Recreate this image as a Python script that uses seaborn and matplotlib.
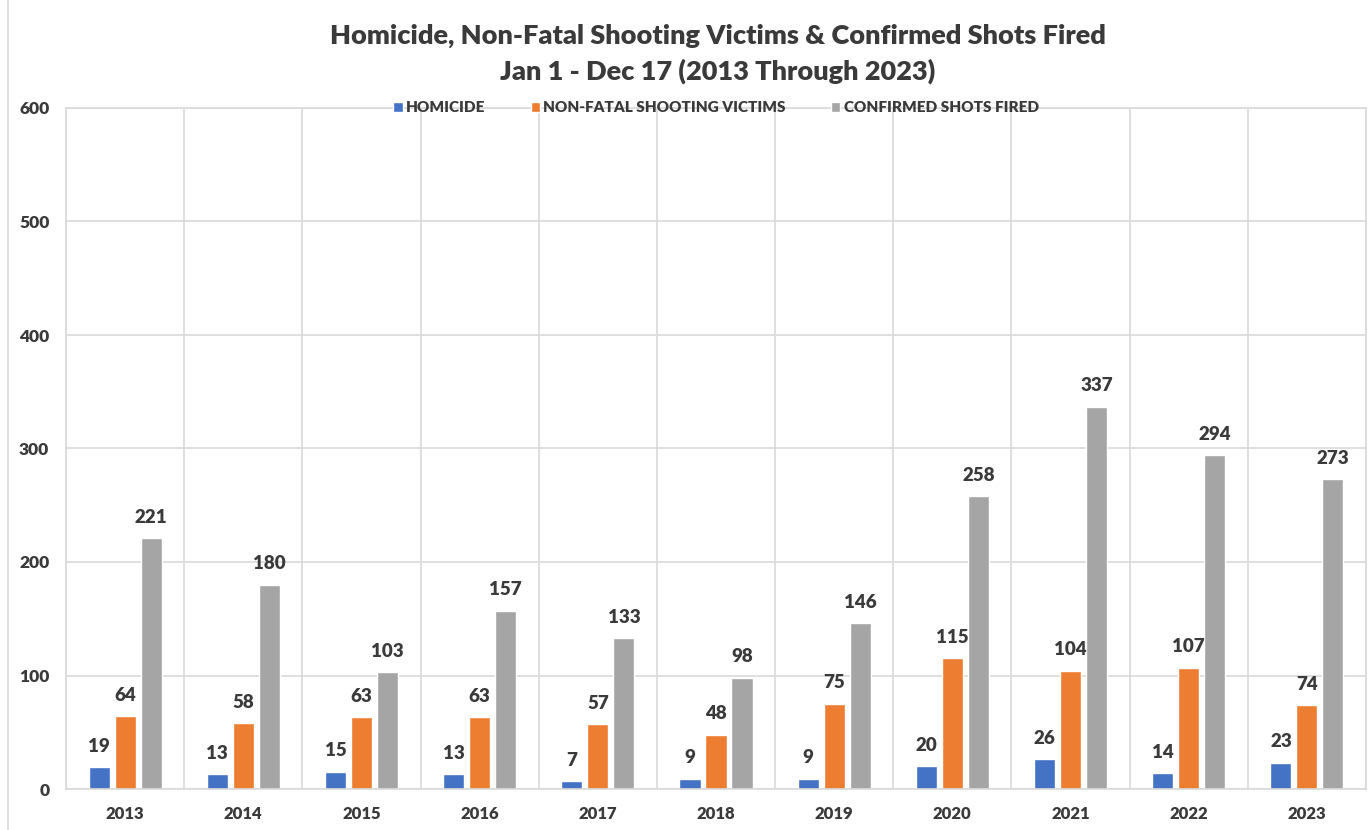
import matplotlib
matplotlib.use("Agg")
import matplotlib.pyplot as plt
from matplotlib.lines import Line2D
import pandas as pd
import seaborn as sns

years = ["2013", "2014", "2015", "2016", "2017", "2018", "2019", "2020", "2021", "2022", "2023"]
homicide = [19, 13, 15, 13, 7, 9, 9, 20, 26, 14, 23]
non_fatal = [64, 58, 63, 63, 57, 48, 75, 115, 104, 107, 74]
shots_fired = [221, 180, 103, 157, 133, 98, 146, 258, 337, 294, 273]

series_names = ["HOMICIDE", "NON-FATAL SHOOTING VICTIMS", "CONFIRMED SHOTS FIRED"]
colors = ["#4472C4", "#ED7D31", "#A5A5A5"]

df = pd.DataFrame({
    "year": years * 3,
    "series": [series_names[0]] * len(years) + [series_names[1]] * len(years) + [series_names[2]] * len(years),
    "value": homicide + non_fatal + shots_fired,
})

sns.set_theme(style="white")
plt.rcParams["font.family"] = ["Lato", "DejaVu Sans"]
text_col = "#3a3a3a"
grid_col = "#d9d9d9"
W = "heavy"

fig = plt.figure(figsize=(13.72, 8.3), dpi=100)
ax = fig.add_axes([66 / 1372, 1 - 789 / 830, 1300 / 1372, (789 - 108) / 830])

sns.barplot(data=df, x="year", y="value", hue="series", hue_order=series_names,
            palette=colors, width=0.66, gap=0.19, saturation=1, ax=ax, legend=True)

for cont in ax.containers:
    ax.bar_label(cont, fmt="%d", padding=9, fontsize=13.5, fontweight=W, color=text_col)

ax.set_ylim(0, 600)
ax.set_xlim(-0.5, len(years) - 0.5)
ax.set_yticks(range(0, 601, 100))
ax.yaxis.grid(True, color=grid_col, lw=1.2)
for i in range(len(years) + 1):
    ax.axvline(i - 0.5, color=grid_col, lw=1.2, zorder=0)
ax.set_axisbelow(True)
for sp in ax.spines.values():
    sp.set_color(grid_col)
    sp.set_linewidth(1.2)
ax.tick_params(axis="both", length=0, labelsize=12, colors=text_col)
ax.tick_params(axis="x", pad=12)
ax.tick_params(axis="y", labelsize=12.5, pad=12)
for lbl in ax.get_xticklabels() + ax.get_yticklabels():
    lbl.set_fontweight(W)
ax.set_xlabel("")
ax.set_ylabel("")

handles, labels = ax.get_legend_handles_labels()
ax.legend(handles, labels, loc="center", bbox_to_anchor=(0.5, 1.0), ncol=3, frameon=False,
          handlelength=0.6, handleheight=0.6, handletextpad=0.2, columnspacing=3.0,
          prop={"size": 11, "weight": W}, labelcolor=text_col)

fig.text(0.523, 1 - 36 / 830, "Homicide, Non-Fatal Shooting Victims & Confirmed Shots Fired",
         ha="center", va="center", fontsize=19.5, fontweight=W, color=text_col)
fig.text(0.523, 1 - 71 / 830, "Jan 1 - Dec 17 (2013 Through 2023)",
         ha="center", va="center", fontsize=19.5, fontweight=W, color=text_col)

fig.add_artist(Line2D([8 / 1372, 8 / 1372], [0, 1], color=grid_col, lw=1.2, transform=fig.transFigure))

fig.savefig("out.png", dpi=100)
